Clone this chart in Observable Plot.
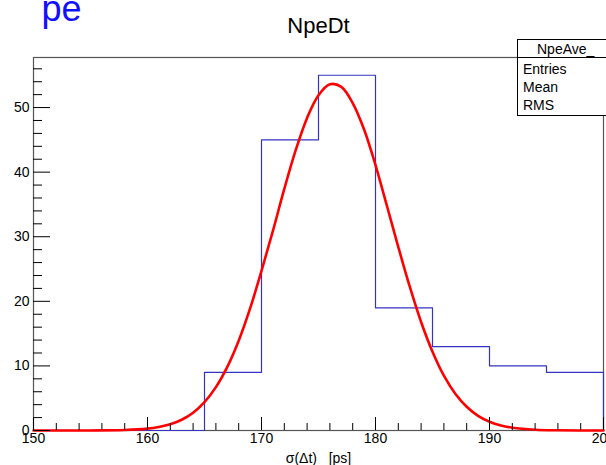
<!DOCTYPE html>
<html>
<head>
<meta charset="utf-8">
<script src="https://cdn.jsdelivr.net/npm/d3@7"></script>
<script src="https://cdn.jsdelivr.net/npm/@observablehq/plot@0.6"></script>
<style>
  html, body { margin: 0; padding: 0; background: #fff; }
  #chart { width: 606px; height: 465px; overflow: hidden; }
  svg { font-family: "Liberation Sans", Arial, Helvetica, sans-serif; }
</style>
</head>
<body>
<div id="chart"></div>
<script>
// Histogram bin edges (ps) and counts
const binEdges = [150, 155, 160, 165, 170, 175, 180, 185, 190, 195, 200];
const counts   = [0, 0, 0, 9, 45, 55, 19, 13, 10, 9];

// Fitted curve
const fitX = [150, 155, 158, 160, 161, 162, 163, 164, 165, 166, 167, 168, 169, 170, 171, 172, 173, 174, 175, 176, 177, 178, 179, 180, 181, 182, 183, 184, 185, 186, 187, 188, 189, 190, 191, 192, 194, 196, 200];
const fitY = [0, 0.01, 0.08, 0.29, 0.55, 0.97, 1.67, 2.76, 4.39, 6.71, 9.85, 13.9, 18.9, 24.7, 30.9, 37.4, 43.4, 48.4, 51.9, 53.6, 53.2, 50.7, 46.6, 41.1, 34.8, 28.4, 22.3, 16.8, 12.2, 8.49, 5.69, 3.67, 2.27, 1.35, 0.77, 0.43, 0.12, 0.03, 0];

// Axis ticks
const xMajor = [150, 160, 170, 180, 190, 200];
const xMinor = [152, 154, 156, 158, 162, 164, 166, 168, 172, 174, 176, 178, 182, 184, 186, 188, 192, 194, 196, 198];
const yMajor = [0, 10, 20, 30, 40, 50];
const yMinor = [2, 4, 6, 8, 12, 14, 16, 18, 22, 24, 26, 28, 32, 34, 36, 38, 42, 44, 46, 48, 52, 54, 56];

// Texts
const titleText = "NpeDt";
const xLabel = "σ(Δt)   [ps]";
const statsTitle = "NpeAve_";
const statsRows = ["Entries", "Mean", "RMS"];

// Step outline of histogram
const histPts = binEdges.slice(0, -1).map((x, i) => ({x, y: counts[i]}));
histPts.push({x: binEdges[binEdges.length - 1], y: counts[counts.length - 1]});
histPts.push({x: binEdges[binEdges.length - 1], y: 0});
const fitPts = fitX.map((x, i) => ({x, y: fitY[i]}));

const font = "Liberation Sans, Arial, Helvetica, sans-serif";

const plot = Plot.plot({
  width: 606,
  height: 465,
  marginLeft: 33,
  marginRight: 3,
  marginTop: 57,
  marginBottom: 35,
  style: {fontFamily: font, background: "white"},
  x: {domain: [150, 200]},
  y: {domain: [0, 57.75]},
  marks: [
    Plot.frame({stroke: "#555", strokeWidth: 1.2}),
    Plot.line(histPts, {x: "x", y: "y", curve: "step-after", stroke: "#3434c4", strokeWidth: 1.2}),
    Plot.line(fitPts, {x: "x", y: "y", curve: "catmull-rom", stroke: "#ff0000", strokeWidth: 2.6}),
    Plot.axisX({ticks: xMajor, tickSize: -13, tickFormat: () => "", stroke: "#000", label: null}),
    Plot.axisX({ticks: xMinor, tickSize: -7, tickFormat: () => "", stroke: "#000", label: null}),
    Plot.axisX({ticks: xMajor, tickSize: 0, tickPadding: 3, tickFormat: d => String(d), fontSize: 14, fill: "#000", label: null}),
    Plot.axisY({ticks: yMajor, tickSize: -17, tickFormat: () => "", stroke: "#000", label: null}),
    Plot.axisY({ticks: yMinor, tickSize: -9, tickFormat: () => "", stroke: "#000", label: null}),
    Plot.axisY({ticks: yMajor, tickSize: 0, tickPadding: 4, tickFormat: d => String(d), fontSize: 14, fill: "#000", label: null}),
    Plot.text([titleText], {frameAnchor: "top", text: d => d, dy: -25, fontSize: 22, fill: "#000", lineAnchor: "bottom"}),
    Plot.text([xLabel], {frameAnchor: "bottom", text: d => d, dy: 32, fontSize: 14, fill: "#000", lineAnchor: "bottom"}),
    Plot.text(["pe"], {frameAnchor: "top-left", text: d => d, dx: 8, dy: -37, fontSize: 36, fill: "#1010ff", textAnchor: "start", lineAnchor: "bottom"})
  ]
});

document.getElementById("chart").appendChild(plot);

// Stats box (partially cut off at the right edge, like the reference)
const svg = d3.select(plot);
const g = svg.append("g").attr("font-family", font).attr("text-anchor", "start");
g.append("rect").attr("x", 517.5).attr("y", 39.5).attr("width", 120).attr("height", 76)
  .attr("fill", "white").attr("stroke", "#000").attr("stroke-width", 1);
g.append("line").attr("x1", 517.5).attr("x2", 640).attr("y1", 57.5).attr("y2", 57.5)
  .attr("stroke", "#000").attr("stroke-width", 1);
g.append("text").attr("x", 537).attr("y", 54).attr("font-size", 14).attr("fill", "#000")
  .attr("text-anchor", "start").text(statsTitle);
statsRows.forEach((t, i) => {
  g.append("text").attr("x", 523).attr("y", 74 + i * 18).attr("font-size", 14).attr("fill", "#000")
    .attr("text-anchor", "start").text(t);
});
</script>
</body>
</html>
